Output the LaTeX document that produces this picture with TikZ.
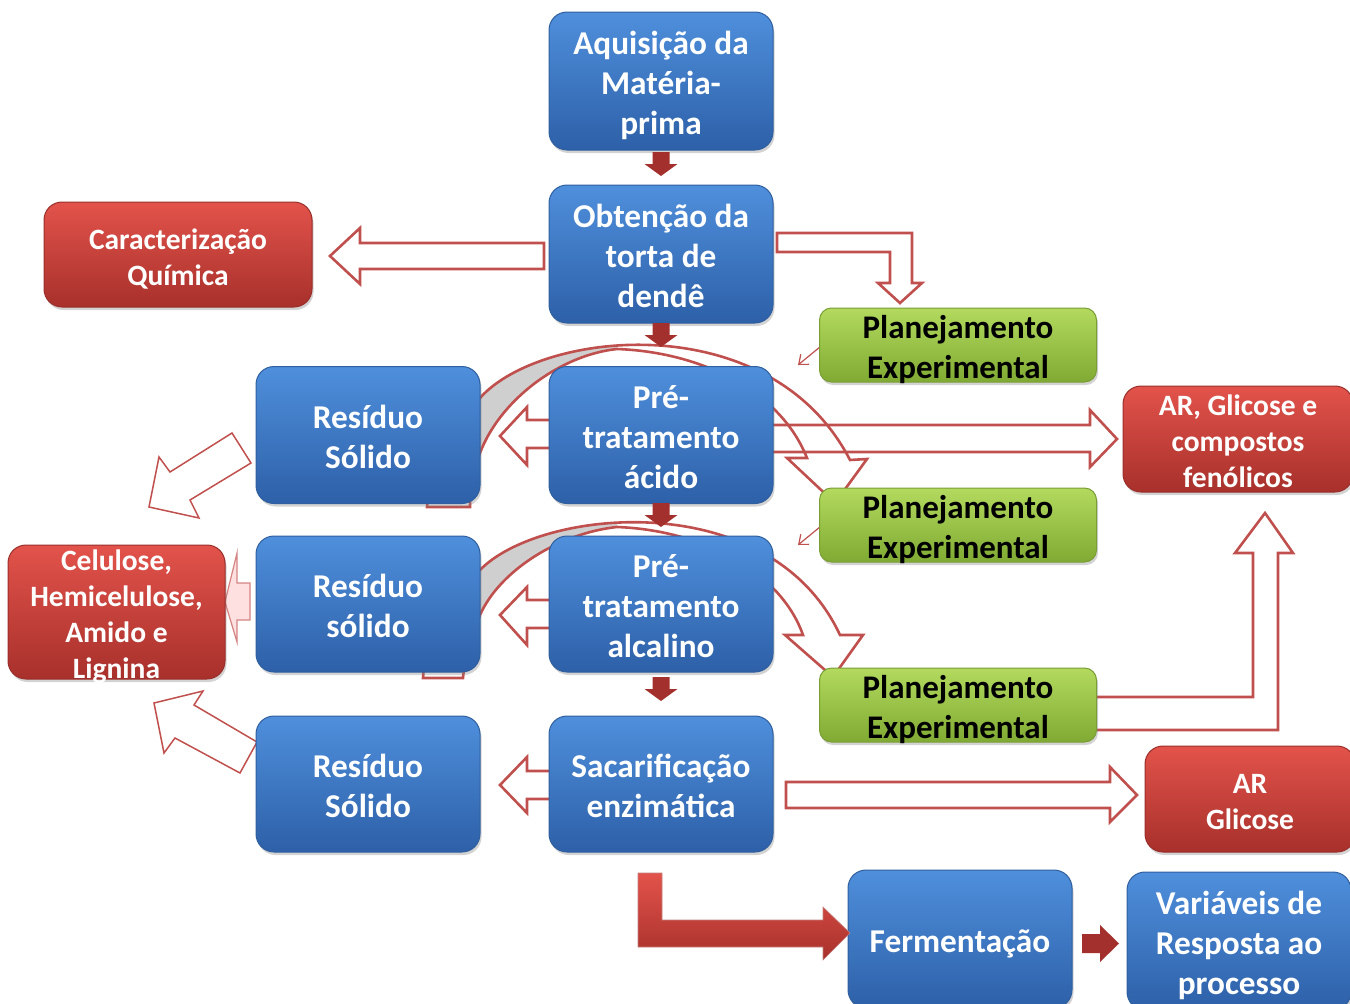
\documentclass[tikz,border=0pt]{standalone}
\usepackage{fontspec}
\setmainfont{Carlito}
\usetikzlibrary{shadows,arrows.meta}
\definecolor{bluetop}{HTML}{4F8FDC}
\definecolor{bluebot}{HTML}{2D60A8}
\definecolor{blueedge}{HTML}{2F5F9E}
\definecolor{redtop}{HTML}{E2534B}
\definecolor{redbot}{HTML}{A8302B}
\definecolor{rededge}{HTML}{9A2E2A}
\definecolor{greentop}{HTML}{B3DA5E}
\definecolor{greenbot}{HTML}{80AA33}
\definecolor{greenedge}{HTML}{7A9E35}
\definecolor{arrowred}{HTML}{C0504D}
\definecolor{darkarrow}{HTML}{A3302C}
\definecolor{ribbongray}{HTML}{CFCFCF}
\newcommand\boxtext[1]{\raisebox{-5.5pt}[\height][\depth]{\begin{tabular}{@{}c@{}}#1\end{tabular}}}
\newcommand\downarr[3]{\fill[darkarrow] (#1-8.5,#2) -- (#1+8.5,#2) -- (#1+8.5,#2+12) -- (#1+16.5,#2+12) -- (#1,#3) -- (#1-16.5,#2+12) -- (#1-8.5,#2+12) -- cycle;}
\newcommand\curvA{(427,507) .. controls (430,460) and (455,420) .. (480,398) .. controls (540,330) and (770,305) .. (850,460) -- (867,459) -- (835,503) -- (787,458) -- (807,458) .. controls (780,390) and (700,352) .. (617,349) .. controls (560,355) and (500,400) .. (480,453) .. controls (474,470) and (470,490) .. (470,507) -- cycle}
\newcommand\curvB{(423,678) .. controls (426,630) and (452,592) .. (480,570) .. controls (540,508) and (770,485) .. (840,635) -- (863,635) -- (833,677) -- (785,635) -- (803,635) .. controls (780,570) and (700,530) .. (617,527) .. controls (560,533) and (500,570) .. (480,615) .. controls (472,635) and (465,655) .. (463,678) -- cycle}
\begin{document}
\begin{tikzpicture}[x=1pt,y=-1pt,
 box/.style={rounded corners=18pt, inner xsep=0pt, inner ysep=-30pt, line width=1pt,
   drop shadow={shadow xshift=1.5pt, shadow yshift=-3pt, opacity=0.35}},
 bluebox/.style={box, top color=bluetop, bottom color=bluebot, draw=blueedge, text=white,
   font=\fontsize{33.3}{40}\selectfont\bfseries, minimum width=224pt, minimum height=138pt},
 redbox/.style={box, top color=redtop, bottom color=redbot, draw=rededge, text=white,
   font=\fontsize{29.5}{36}\selectfont\bfseries},
 greenbox/.style={box, rounded corners=12pt, top color=greentop, bottom color=greenbot, draw=greenedge, text=black,
   font=\fontsize{33}{40}\selectfont\bfseries, minimum width=277pt, minimum height=74pt},
 outarrow/.style={draw=arrowred, line width=2.6pt, fill=white, line join=miter},
 outline/.style={draw=arrowred, line width=2.6pt, line join=miter},
 thinarrow/.style={draw=arrowred, line width=1.2pt, -{Straight Barb[length=8pt,width=13pt]}}
]
\useasboundingbox (0,0) rectangle (1350,1004);
\clip (0,0) rectangle (1350,1004);

% curved arrows (behind boxes)
\fill[white] \curvA;
\begin{scope}\clip (480,300) rectangle (617,470); \fill[ribbongray] \curvA; \end{scope}
\draw[outline] \curvA;
\fill[white] \curvB;
\begin{scope}\clip (480,480) rectangle (617,650); \fill[ribbongray] \curvB; \end{scope}
\draw[outline] \curvB;

% outline block arrows
\draw[outarrow] (544,243) -- (360,243) -- (360,228) -- (330,256) -- (360,284) -- (360,269) -- (544,269) -- cycle;
\draw[outarrow] (777,233) -- (912,233) -- (912,283) -- (922,283) -- (900,303) -- (878,283) -- (890,283) -- (890,252) -- (777,252) -- cycle;
\draw[outline] (760,425) -- (1090,425) -- (1090,410) -- (1117,439) -- (1090,467) -- (1090,452) -- (760,452);
\draw[outarrow] (786,782) -- (1110,782) -- (1110,767) -- (1137,795) -- (1110,822) -- (1110,808) -- (786,808) -- cycle;
\draw[outarrow] (1090,697) -- (1253,697) -- (1253,553) -- (1235,553) -- (1265,513) -- (1293,553) -- (1278,553) -- (1278,730) -- (1090,730) -- cycle;
\draw[outarrow] (553,420) -- (527,420) -- (527,407) -- (500,436) -- (527,465) -- (527,448) -- (553,448) -- cycle;
\draw[outarrow] (553,600) -- (527,600) -- (527,587) -- (500,615) -- (527,645) -- (527,628) -- (553,628) -- cycle;
\draw[outarrow] (553,771) -- (527,771) -- (527,757) -- (500,785) -- (527,813) -- (527,799) -- (553,799) -- cycle;
\draw[outarrow, line width=1.5pt] (232,433) -- (170,472) -- (159,457) -- (149,507) -- (199,518) -- (190,500) -- (251,463) -- cycle;
\draw[outarrow, line width=1.5pt] (203,691) -- (154,703) -- (164,753) -- (175,738) -- (240,773) -- (257,742) -- (194,705) -- cycle;
\draw[fill=red!12, draw=arrowred!70, line width=1.2pt] (250,583) -- (237,583) -- (237,553) -- (225,602) -- (237,642) -- (237,620) -- (250,620) -- cycle;
\draw[thinarrow] (826,342) -- (798,365);
\draw[thinarrow] (826,522) -- (798,545);

% boxes
\node[bluebox] (aq) at (661,81) {\boxtext{Aquisição da\\Matéria-\\prima}};
\node[bluebox] (ob) at (661,254) {\boxtext{Obtenção da\\torta de\\dendê}};
\node[redbox, minimum width=268pt, minimum height=105pt] (car) at (178,254.5) {\boxtext{Caracterização\\Química}};
\node[greenbox] (pl1) at (958,345) {\boxtext{Planejamento\\Experimental}};
\node[bluebox, minimum height=137pt] (rs1) at (368,435) {\boxtext{Resíduo\\Sólido}};
\node[bluebox, minimum height=137pt] (pa) at (661,435) {\boxtext{Pré-\\tratamento\\ácido}};
\node[redbox, minimum width=230pt, minimum height=106pt] (ar1) at (1238,439) {\boxtext{AR, Glicose e\\compostos\\fenólicos}};
\node[greenbox] (pl2) at (958,525) {\boxtext{Planejamento\\Experimental}};
\node[redbox, minimum width=217pt, minimum height=134pt] (cel) at (116.5,612) {\boxtext{Celulose,\\Hemicelulose,\\Amido e\\Lignina}};
\node[bluebox, minimum height=136pt] (rs2) at (368,604) {\boxtext{Resíduo\\sólido}};
\node[bluebox, minimum height=136pt] (pb) at (661,604) {\boxtext{Pré-\\tratamento\\alcalino}};
\node[greenbox] (pl3) at (958,705) {\boxtext{Planejamento\\Experimental}};
\node[bluebox, minimum height=136pt] (rs3) at (368,784) {\boxtext{Resíduo\\Sólido}};
\node[bluebox, minimum height=136pt] (sac) at (661,784) {\boxtext{Sacarificação\\enzimática}};
\node[redbox, minimum width=210pt, minimum height=106pt] (ar2) at (1250,799) {\boxtext{AR\\Glicose}};
\node[bluebox] (fer) at (960,939) {\boxtext{Fermentação}};
\node[bluebox] (var) at (1239,941) {\boxtext{Variáveis de\\Resposta ao\\processo}};

% dark solid arrows
\downarr{661}{152}{176}
\downarr{661}{323}{347}
\downarr{661}{503}{527}
\downarr{661}{677}{701}
\fill[darkarrow] (1082,934) -- (1100,934) -- (1100,925) -- (1119,943.5) -- (1100,962) -- (1100,953) -- (1082,953) -- cycle;
\path[top color=redtop, bottom color=redbot, draw=rededge!60, line width=0.6pt] (638,873) -- (662,873) -- (662,920) -- (823,920) -- (823,907) -- (850,933) -- (823,960) -- (823,947) -- (638,947) -- cycle;
\end{tikzpicture}
\end{document}
